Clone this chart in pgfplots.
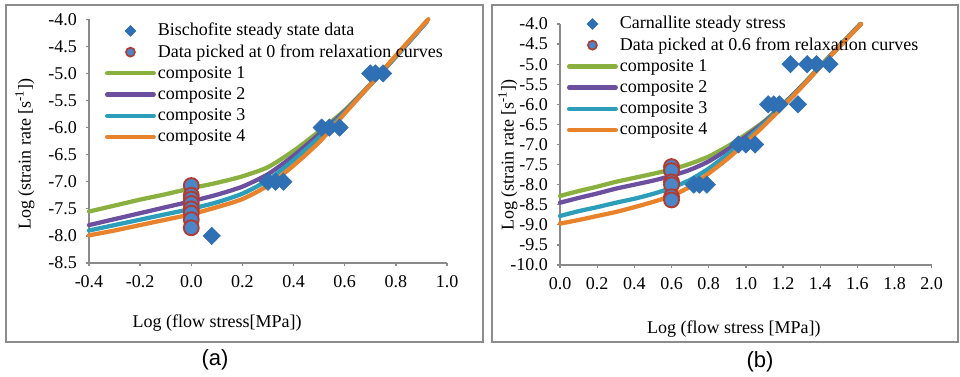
\documentclass[border=0pt]{standalone}
\usepackage{pgfplots}
\pgfplotsset{compat=1.18}
\usepackage{fontspec}
\setmainfont{Liberation Serif}
\newfontfamily\arialfont{Liberation Sans}
\definecolor{cgreen}{HTML}{8AB13F}
\definecolor{cpurple}{HTML}{6C4F9E}
\definecolor{ccyan}{HTML}{2C9EBA}
\definecolor{corange}{HTML}{E8832B}
\definecolor{cdiam}{HTML}{2F6FB3}
\definecolor{cfill}{HTML}{4A86C8}
\definecolor{cred}{HTML}{B23A30}
\definecolor{framegray}{HTML}{8C8C8C}
\definecolor{axgray}{HTML}{8A8A8A}
\pgfplotsset{
  panel/.style={
    scale only axis,
    axis x line*=bottom, axis y line*=left,
    axis line style={axgray, line width=1.3pt},
    every tick/.style={axgray, line width=1pt},
    tick align=outside,
    major tick length=2.6pt,
    xticklabel={\pgfmathprintnumber[fixed,fixed zerofill,precision=1,assume math mode=true]{\tick}},
    yticklabel={\pgfmathprintnumber[fixed,fixed zerofill,precision=1,assume math mode=true]{\tick}},
    tick label style={font=\rmfamily\fontsize{13.5}{15}\selectfont},
    xticklabel style={yshift=-3pt},
    yticklabel style={xshift=-3pt},
    label style={font=\rmfamily\fontsize{13.5}{15}\selectfont},
    legend style={draw=none, fill=none, inner sep=0pt, outer sep=0pt, anchor=north west,
      font=\rmfamily\fontsize{13.5}{15}\selectfont, column sep=0pt, row sep=0pt,
      nodes={inner xsep=1.5pt, inner ysep=1.5pt, text height=10.2pt, text depth=2.7pt}},
    legend cell align=left,
    legend image code/.code={\draw[#1] (0pt,0pt) -- (35pt,0pt);},
    clip=false,
  },
  cline/.style={line width=3.2pt, line cap=round, line join=round, no markers, smooth, tension=0.4},
  diam/.style={only marks, mark=square*, mark size=4.6pt, mark options={rotate=45, fill=cdiam, draw=cdiam, line width=0.4pt}},
  circ/.style={only marks, mark=*, mark size=5.6pt, mark options={fill=cfill, draw=cred, line width=1.4pt}},
  diamleg/.style={legend image code/.code={\path (0pt,0pt) (35pt,0pt);
     \fill[cdiam] (17.5pt,-4.1pt) -- (21.6pt,0pt) -- (17.5pt,4.1pt) -- (13.4pt,0pt) -- cycle;}},
  circleg/.style={legend image code/.code={\path (0pt,0pt) (35pt,0pt);
     \draw[cred, fill=cfill, line width=1.2pt] (17.5pt,0pt) circle (3.4pt);}},
}
\begin{document}
\begin{tikzpicture}
\draw[framegray, line width=1.5pt] (4.5pt,26.25pt) rectangle (362.25pt,279pt);
\draw[framegray, line width=1.5pt] (369pt,26.25pt) rectangle (718.5pt,279pt);
\node[font=\arialfont\fontsize{16.5}{19}\selectfont] at (161.25pt,12.75pt) {(a)};
\node[font=\arialfont\fontsize{16.5}{19}\selectfont] at (570pt,11.25pt) {(b)};

% ---------------- panel (a)
\begin{axis}[panel, at={(66.75pt,85.5pt)}, anchor=south west,
  width=268.5pt, height=182.8pt,
  xmin=-0.4, xmax=1.0, ymin=-8.5, ymax=-4,
  xtick={-0.4,-0.2,0,0.2,0.4,0.6,0.8,1.0},
  ytick={-8.5,-8,-7.5,-7,-6.5,-6,-5.5,-5,-4.5,-4},
  xlabel={Log (flow stress[MPa])},
  ylabel={Log (strain rate [s\textsuperscript{-1}])},
  xlabel style={at={(axis description cs:0.358,-0.245)}, anchor=center},
  ylabel style={at={(axis description cs:-0.179,0.447)}, anchor=center},
  legend style={at={(axis description cs:0.0447,0.9956)}},
]
\addlegendimage{diamleg}\addlegendentry{Bischofite steady state data}
\addlegendimage{circleg}\addlegendentry{Data picked at 0 from relaxation curves}
\addlegendimage{cgreen, line width=3.2pt, line cap=round}\addlegendentry{composite 1}
\addlegendimage{cpurple, line width=3.2pt, line cap=round}\addlegendentry{composite 2}
\addlegendimage{ccyan, line width=3.2pt, line cap=round}\addlegendentry{composite 3}
\addlegendimage{corange, line width=3.2pt, line cap=round}\addlegendentry{composite 4}

\addplot[cline, cgreen, forget plot] coordinates {
(-0.4,-7.55) (-0.3,-7.44) (-0.2,-7.33) (-0.1,-7.23) (0,-7.12) (0.1,-7.02) (0.2,-6.9) (0.3,-6.73)
(0.4,-6.43) (0.5,-6.07) (0.6,-5.68) (0.7,-5.2) (0.8,-4.68) (0.92,-4.04)};
\addplot[cline, cpurple, forget plot] coordinates {
(-0.4,-7.8) (-0.3,-7.69) (-0.2,-7.58) (-0.1,-7.47) (0,-7.36) (0.1,-7.24) (0.2,-7.09) (0.3,-6.86)
(0.4,-6.52) (0.5,-6.12) (0.6,-5.7) (0.7,-5.21) (0.8,-4.69) (0.92,-4.05)};
\addplot[cline, ccyan, forget plot] coordinates {
(-0.4,-7.9) (-0.3,-7.8) (-0.2,-7.7) (-0.1,-7.6) (0,-7.5) (0.1,-7.38) (0.2,-7.22) (0.3,-6.97)
(0.4,-6.6) (0.5,-6.18) (0.6,-5.72) (0.7,-5.21) (0.8,-4.69) (0.92,-4.05)};
\addplot[cline, corange, forget plot] coordinates {
(-0.4,-7.99) (-0.3,-7.9) (-0.2,-7.8) (-0.1,-7.7) (0,-7.6) (0.1,-7.47) (0.2,-7.32) (0.3,-7.07)
(0.4,-6.7) (0.5,-6.27) (0.6,-5.74) (0.7,-5.21) (0.8,-4.67) (0.927,-4.0)};

\addplot[diam, forget plot] coordinates {
(0.08,-8) (0.30,-7) (0.33,-7) (0.36,-7) (0.51,-6) (0.54,-6) (0.58,-6) (0.70,-5) (0.72,-5) (0.75,-5)};
\addplot[circ, forget plot] coordinates {
(0,-7.07) (0,-7.25) (0,-7.32) (0,-7.40) (0,-7.50) (0,-7.58) (0,-7.70) (0,-7.85)};
\end{axis}

% ---------------- panel (b)
\begin{axis}[panel, at={(420pt,84pt)}, anchor=south west,
  width=278.8pt, height=180.75pt,
  xmin=0, xmax=2.0, ymin=-10, ymax=-4,
  xtick={0,0.2,0.4,0.6,0.8,1.0,1.2,1.4,1.6,1.8,2.0},
  ytick={-10,-9.5,-9,-8.5,-8,-7.5,-7,-6.5,-6,-5.5,-5,-4.5,-4},
  xlabel={Log (flow stress [MPa])},
  ylabel={Log (strain rate [s\textsuperscript{-1}])},
  xlabel style={at={(axis description cs:0.468,-0.266)}, anchor=center},
  ylabel style={at={(axis description cs:-0.14,0.456)}, anchor=center},
  legend style={at={(axis description cs:0.0188,1.044)}},
]
\addlegendimage{diamleg}\addlegendentry{Carnallite steady stress}
\addlegendimage{circleg}\addlegendentry{Data picked at 0.6 from relaxation curves}
\addlegendimage{cgreen, line width=3.2pt, line cap=round}\addlegendentry{composite 1}
\addlegendimage{cpurple, line width=3.2pt, line cap=round}\addlegendentry{composite 2}
\addlegendimage{ccyan, line width=3.2pt, line cap=round}\addlegendentry{composite 3}
\addlegendimage{corange, line width=3.2pt, line cap=round}\addlegendentry{composite 4}

\addplot[cline, cgreen, forget plot] coordinates {
(0,-8.28) (0.1,-8.16) (0.2,-8.05) (0.3,-7.93) (0.4,-7.83) (0.5,-7.73) (0.6,-7.62) (0.7,-7.48)
(0.8,-7.3) (0.9,-7.05) (1.0,-6.75) (1.1,-6.42) (1.2,-6.0) (1.3,-5.54) (1.4,-5.05) (1.5,-4.56) (1.615,-4.0)};
\addplot[cline, cpurple, forget plot] coordinates {
(0,-8.45) (0.1,-8.33) (0.2,-8.22) (0.3,-8.1) (0.4,-8.0) (0.5,-7.9) (0.6,-7.78) (0.7,-7.63)
(0.8,-7.42) (0.9,-7.13) (1.0,-6.8) (1.1,-6.44) (1.2,-6.01) (1.3,-5.55) (1.4,-5.06) (1.5,-4.57) (1.618,-4.0)};
\addplot[cline, ccyan, forget plot] coordinates {
(0,-8.78) (0.1,-8.66) (0.2,-8.56) (0.3,-8.45) (0.4,-8.35) (0.5,-8.23) (0.6,-8.08) (0.7,-7.88)
(0.8,-7.6) (0.9,-7.25) (1.0,-6.88) (1.1,-6.47) (1.2,-6.02) (1.3,-5.56) (1.4,-5.06) (1.5,-4.57) (1.619,-4.0)};
\addplot[cline, corange, forget plot] coordinates {
(0,-8.97) (0.1,-8.88) (0.2,-8.78) (0.3,-8.68) (0.4,-8.56) (0.5,-8.43) (0.6,-8.28) (0.7,-8.05)
(0.8,-7.72) (0.9,-7.36) (1.0,-6.95) (1.1,-6.52) (1.2,-6.05) (1.3,-5.57) (1.4,-5.07) (1.5,-4.58) (1.62,-4.0)};

\addplot[diam, forget plot] coordinates {
(0.72,-8) (0.75,-8) (0.79,-8) (0.96,-7) (1.0,-7) (1.05,-7)
(1.12,-6) (1.15,-6) (1.18,-6) (1.28,-6) (1.24,-5) (1.33,-5) (1.38,-5) (1.45,-5)};
\addplot[circ, forget plot] coordinates {
(0.6,-7.55) (0.6,-7.65) (0.6,-7.93) (0.6,-8.0) (0.6,-8.3) (0.6,-8.38)};
\end{axis}
\pgfresetboundingbox
\path (0pt,0pt) rectangle (720pt,282.75pt);
\end{tikzpicture}
\end{document}
